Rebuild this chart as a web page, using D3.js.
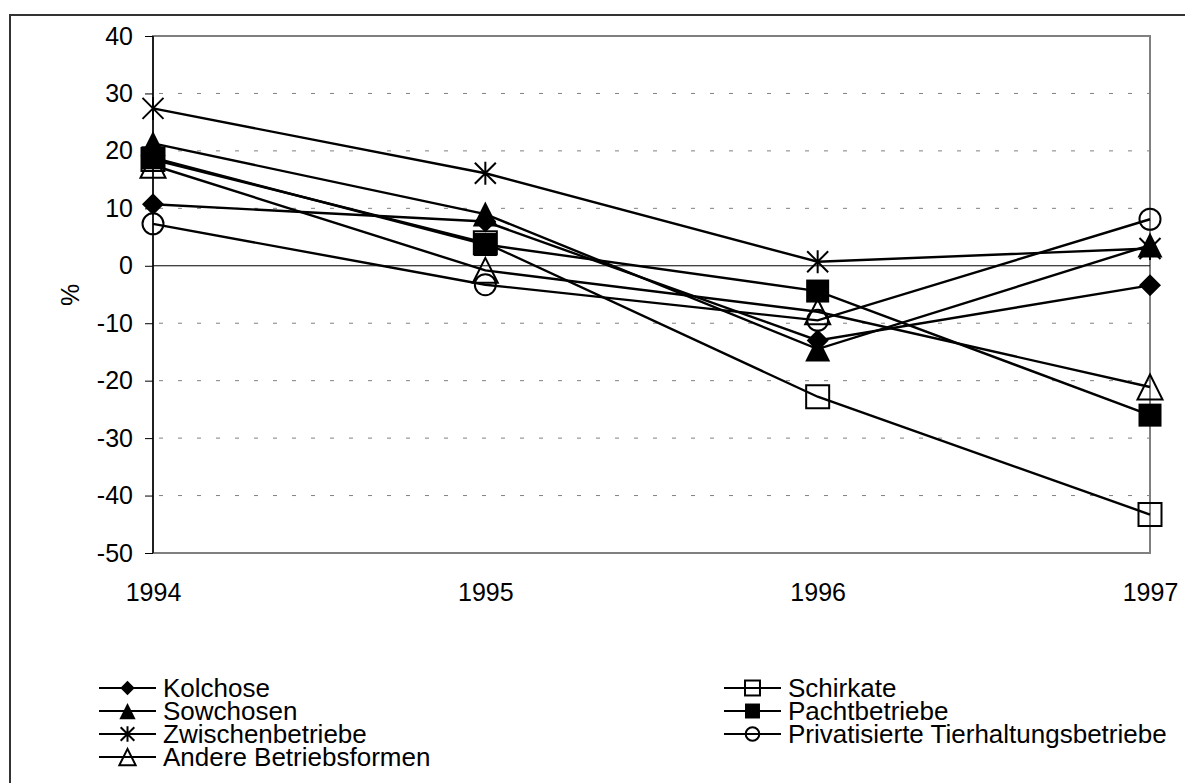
<!DOCTYPE html>
<html>
<head>
<meta charset="utf-8">
<script src="https://cdn.jsdelivr.net/npm/d3@7"></script>
<style>
  body { margin: 0; background: #fff; }
  svg { display: block; font-family: "Liberation Sans", Arial, sans-serif; }
</style>
</head>
<body>
<svg id="chart" width="1185" height="783"></svg>
<script>
// data (percent change per year)
const years = [1994, 1995, 1996, 1997];
const yTicks = [-50, -40, -30, -20, -10, 0, 10, 20, 30, 40];

const kolchose   = [10.7, 7.7, -13.0, -3.4];
const schirkate  = [18.5, 4.0, -22.8, -43.3];
const sowchosen  = [21.3, 9.0, -14.5, 3.6];
const pacht      = [18.8, 3.7, -4.4, -26.0];
const zwischen   = [27.4, 16.1, 0.7, 3.0];
const privat     = [7.3, -3.3, -9.5, 8.1];
const andere     = [17.5, -0.8, -8.0, -21.1];

const seriesNames = ["Kolchose", "Schirkate", "Sowchosen", "Pachtbetriebe",
    "Zwischenbetriebe", "Privatisierte Tierhaltungsbetriebe", "Andere Betriebsformen"];
const seriesValues = [kolchose, schirkate, sowchosen, pacht, zwischen, privat, andere];
const seriesMarkers = ["diamond", "squareOpen", "triangle", "square", "star", "circleOpen", "triangleOpen"];

const series = seriesNames.map((name, i) => ({
    name: name,
    marker: seriesMarkers[i],
    values: seriesValues[i].map((v, j) => ({year: years[j], value: v}))
}));

const svg = d3.select("#chart");

// outer frame
svg.append("rect")
    .attr("x", 10).attr("y", 15)
    .attr("width", 1200).attr("height", 800)
    .attr("fill", "none").attr("stroke", "#333").attr("stroke-width", 2);

const x = d3.scaleLinear().domain([1994, 1997]).range([153, 1150]);
const y = d3.scaleLinear().domain([-50, 40]).range([553, 36]);

// gridlines
svg.append("g")
    .selectAll("line")
    .data(yTicks.filter(d => d !== 0 && d !== 40 && d !== -50))
    .enter()
    .append("line")
    .attr("x1", x(1994)).attr("x2", x(1997))
    .attr("y1", d => y(d)).attr("y2", d => y(d))
    .attr("stroke", "#808080")
    .attr("stroke-width", 1)
    .attr("stroke-dasharray", "4,15")
    .attr("stroke-dashoffset", -6);

// plot area border (gray), left axis black
svg.append("rect")
    .attr("x", x(1994)).attr("y", y(40))
    .attr("width", x(1997) - x(1994)).attr("height", y(-50) - y(40))
    .attr("fill", "none").attr("stroke", "#808080").attr("stroke-width", 2);

svg.append("line")
    .attr("x1", x(1994)).attr("x2", x(1997))
    .attr("y1", y(0)).attr("y2", y(0))
    .attr("stroke", "#000").attr("stroke-width", 1);

// y axis
const yAxis = svg.append("g")
    .attr("transform", "translate(" + x(1994) + ",0)")
    .call(d3.axisLeft(y).tickValues(yTicks).tickFormat(d => String(d)).tickSize(8).tickPadding(12));
yAxis.select(".domain").attr("stroke", "#000").attr("stroke-width", 1.5)
    .attr("d", "M0," + y(40) + "V" + y(-50));
yAxis.selectAll(".tick line").attr("stroke", "#000").attr("stroke-width", 1);
yAxis.selectAll("text")
    .attr("font-family", "'Liberation Sans', Arial, sans-serif")
    .attr("font-size", 25).attr("fill", "#000");

// x axis labels
const xAxis = svg.append("g")
    .attr("transform", "translate(0," + y(-50) + ")")
    .call(d3.axisBottom(x).tickValues(years).tickFormat(d3.format("d")).tickSize(0).tickPadding(30));
xAxis.select(".domain").remove();
xAxis.selectAll("text")
    .attr("font-family", "'Liberation Sans', Arial, sans-serif")
    .attr("font-size", 25).attr("fill", "#000");

// y axis title
svg.append("text")
    .attr("transform", "translate(79,295) rotate(-90)")
    .attr("text-anchor", "middle")
    .attr("font-size", 25)
    .text("%");

// marker drawing
function drawMarker(g, type, k) {
    const h = 11 * k;
    if (type === "diamond") {
        g.append("path").attr("d", `M0,${-h}L${h},0L0,${h}L${-h},0Z`).attr("fill", "#000");
    } else if (type === "square" || type === "squareOpen") {
        const s = 11.5 * k;
        g.append("rect").attr("x", -s).attr("y", -s).attr("width", 2 * s).attr("height", 2 * s)
            .attr("fill", type === "square" ? "#000" : "none")
            .attr("stroke", "#000").attr("stroke-width", type === "square" ? 0 : 2);
    } else if (type === "triangle" || type === "triangleOpen") {
        const t = 12.5 * k;
        g.append("path").attr("d", `M0,${-t}L${t},${t}L${-t},${t}Z`)
            .attr("fill", type === "triangle" ? "#000" : "none")
            .attr("stroke", "#000").attr("stroke-width", type === "triangle" ? 0 : 2);
    } else if (type === "circleOpen") {
        g.append("circle").attr("r", 10.5 * k)
            .attr("fill", "none").attr("stroke", "#000").attr("stroke-width", 2);
    } else if (type === "star") {
        const a = 10.5 * k;
        g.append("path")
            .attr("d", `M${-a},${-a}L${a},${a}M${a},${-a}L${-a},${a}M0,${-a - 1}V${a + 1}`)
            .attr("stroke", "#000").attr("stroke-width", 2).attr("fill", "none");
    }
}

const line = d3.line().x(d => x(d.year)).y(d => y(d.value));

series.forEach(s => {
    const g = svg.append("g").attr("class", "series");
    g.append("path")
        .datum(s.values)
        .attr("d", line)
        .attr("fill", "none")
        .attr("stroke", "#000")
        .attr("stroke-width", 2.4);
    g.selectAll("g.pt")
        .data(s.values)
        .enter()
        .append("g")
        .attr("class", "pt")
        .attr("transform", d => "translate(" + x(d.year) + "," + y(d.value) + ")")
        .each(function () { drawMarker(d3.select(this), s.marker, 1); });
});

// legend: two columns, filled row by row
const legendCols = [99, 724];
const legendRowTop = 688;
const legendRowStep = 23;
const legend = svg.append("g").attr("class", "legend");
series.forEach((s, i) => {
    const lx = legendCols[i % 2];
    const ly = legendRowTop + Math.floor(i / 2) * legendRowStep;
    const item = legend.append("g").attr("transform", "translate(" + lx + "," + ly + ")");
    item.append("line").attr("x1", 0).attr("x2", 57).attr("y1", 0).attr("y2", 0)
        .attr("stroke", "#000").attr("stroke-width", 2);
    const m = item.append("g").attr("transform", "translate(28.5,0)");
    drawMarker(m, s.marker, 0.65);
    item.append("text")
        .attr("x", 64).attr("y", 0).attr("dy", "0.36em")
        .attr("font-size", 26)
        .text(s.name);
});
</script>
</body>
</html>
